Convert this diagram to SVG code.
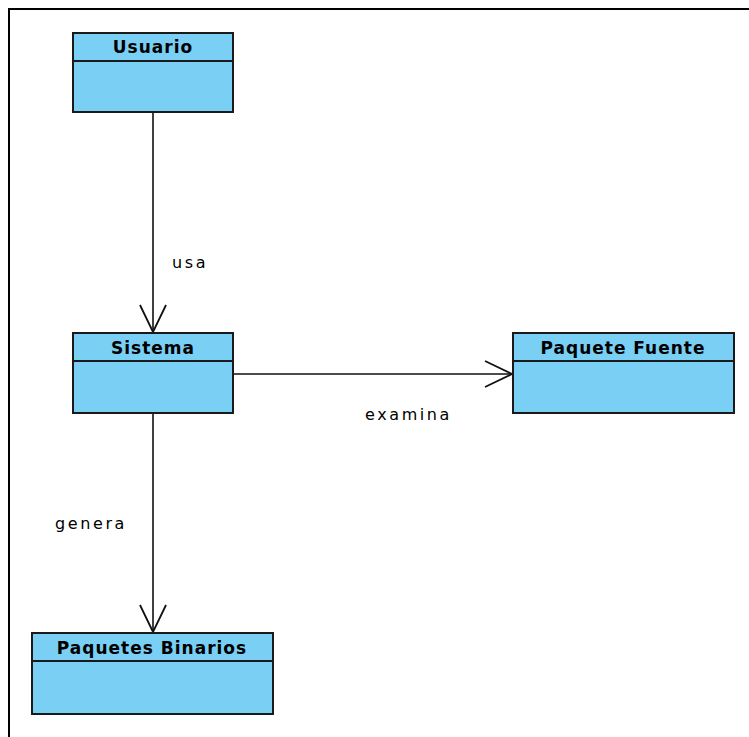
<svg xmlns="http://www.w3.org/2000/svg" width="749" height="737" viewBox="0 0 749 737">
<style>
.box{fill:#79cff4;stroke:#1a1a1a;stroke-width:2}
.div{stroke:#1a1a1a;stroke-width:2}
.title{font-family:"DejaVu Sans",sans-serif;font-weight:bold;font-size:17px;fill:#000;text-anchor:middle;letter-spacing:1px}
.lbl{font-family:"DejaVu Sans",sans-serif;font-size:16px;fill:#000;letter-spacing:2.6px}
.conn{stroke:#111;stroke-width:1.6;fill:none}
</style>
<defs>
<marker id="open" viewBox="0 0 30 30" refX="28" refY="15" markerWidth="30" markerHeight="30" markerUnits="userSpaceOnUse" orient="auto">
<path d="M1,2 L28,15 L1,28" fill="none" stroke="#111" stroke-width="1.8"/>
</marker>
</defs>
<rect width="749" height="737" fill="#fff"/>
<path d="M9,737 V9 H749" fill="none" stroke="#000" stroke-width="2"/>
<g id="connectors">
<line class="conn" x1="153" y1="113" x2="153" y2="332" marker-end="url(#open)"/>
<line class="conn" x1="234" y1="374" x2="512" y2="374" marker-end="url(#open)"/>
<line class="conn" x1="153" y1="414" x2="153" y2="632" marker-end="url(#open)"/>
<text class="lbl" x="172" y="268">usa</text>
<text class="lbl" x="365" y="420">examina</text>
<text class="lbl" x="55" y="529">genera</text>
</g>
<g id="usuario">
<rect class="box" x="73" y="33" width="160" height="79"/>
<line class="div" x1="73" y1="61" x2="233" y2="61"/>
<text class="title" x="153" y="53">Usuario</text>
</g>
<g id="sistema">
<rect class="box" x="73" y="333" width="160" height="80"/>
<line class="div" x1="73" y1="361" x2="233" y2="361"/>
<text class="title" x="153" y="354">Sistema</text>
</g>
<g id="paquete-fuente">
<rect class="box" x="513" y="333" width="221" height="80"/>
<line class="div" x1="513" y1="361" x2="734" y2="361"/>
<text class="title" x="623" y="354">Paquete Fuente</text>
</g>
<g id="paquetes-binarios">
<rect class="box" x="32" y="633" width="241" height="81"/>
<line class="div" x1="32" y1="661" x2="273" y2="661"/>
<text class="title" x="152" y="654">Paquetes Binarios</text>
</g>
</svg>
